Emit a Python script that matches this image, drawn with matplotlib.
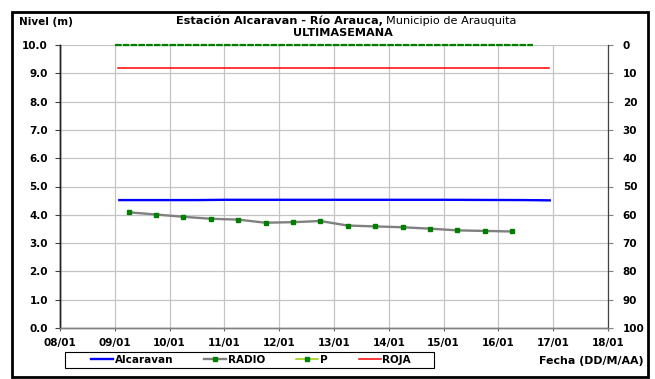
import datetime as dt
import matplotlib
matplotlib.use("Agg")
import matplotlib.pyplot as plt
import matplotlib.dates as mdates
from matplotlib.lines import Line2D
from matplotlib.patches import Rectangle

plt.rcParams["font.family"] = ["DejaVu Sans"]

# ---- data ----
# RADIO readings, every 12 h starting 09/01 06:00
radio_time = ["2011-01-09 06:00", "2011-01-09 18:00", "2011-01-10 06:00", "2011-01-10 18:00",
              "2011-01-11 06:00", "2011-01-11 18:00", "2011-01-12 06:00", "2011-01-12 18:00",
              "2011-01-13 06:00", "2011-01-13 18:00", "2011-01-14 06:00", "2011-01-14 18:00",
              "2011-01-15 06:00", "2011-01-15 18:00", "2011-01-16 06:00"]
radio_val = [4.09, 4.01, 3.93, 3.86, 3.83, 3.72, 3.74, 3.78, 3.62, 3.59, 3.56, 3.51, 3.45, 3.43, 3.41]

# Alcaravan automatic station
alc_time = ["2011-01-09 02:00", "2011-01-10 12:00", "2011-01-11 00:00", "2011-01-13 00:00",
            "2011-01-15 00:00", "2011-01-16 12:00", "2011-01-16 22:30"]
alc_val = [4.52, 4.52, 4.53, 4.53, 4.53, 4.52, 4.51]

# precipitation (right axis, mm)
p_time = ["2011-01-09 00:00", "2011-01-16 15:00"]
p_val = [0, 0]

# red alert level
roja_time = ["2011-01-09 01:30", "2011-01-16 22:00"]
roja_val = [9.2, 9.2]

x_ticks = ["2011-01-%02d" % d for d in range(8, 19)]
y_ticks = [0, 1, 2, 3, 4, 5, 6, 7, 8, 9, 10]
y2_ticks = [0, 10, 20, 30, 40, 50, 60, 70, 80, 90, 100]


def to_dt(lst):
    return [dt.datetime.strptime(s, "%Y-%m-%d %H:%M") if " " in s
            else dt.datetime.strptime(s, "%Y-%m-%d") for s in lst]


fig = plt.figure(figsize=(6.55, 3.79), dpi=100)
ax = fig.add_axes([60 / 655, 1 - 328 / 379, 548 / 655, 283 / 379])
ax2 = ax.twinx()

grid_c = "#c4c4c4"
ax.grid(True, color=grid_c, lw=0.9)
ax.set_axisbelow(True)

ax.plot(to_dt(alc_time), alc_val, color="#0000ff", lw=1.7, zorder=3)
ax.plot(to_dt(roja_time), roja_val, color="#ff0000", lw=1.1, zorder=3)
ax.plot(to_dt(radio_time), radio_val, color="#808080", lw=1.7, marker="s",
        ms=2.2, mfc="#008000", mec="#008000", zorder=4)
ax2.plot(to_dt(p_time), p_val, color="#008000", lw=1.6, ls=(0, (3.0, 0.5)),
         zorder=3, clip_on=False)

xt = to_dt(x_ticks)
ax.set_xlim(xt[0], xt[-1])
ax.set_xticks(xt)
ax.xaxis.set_major_formatter(mdates.DateFormatter("%d/%m"))
ax.set_ylim(0, 10)
ax.set_yticks(y_ticks)
ax.set_yticklabels(["%.1f" % v for v in y_ticks])
ax2.set_ylim(100, 0)
ax2.set_yticks(y2_ticks)

fs = 7.5
tfs = 8.1
for a in (ax, ax2):
    for lab in a.get_xticklabels() + a.get_yticklabels():
        lab.set_fontweight("bold")
        lab.set_fontsize(fs)
ax.tick_params(axis="y", length=3.6, width=0.8, color="#404040", pad=5)
ax.tick_params(axis="x", length=2.5, width=0.8, color="#606060", pad=5)
ax2.tick_params(axis="y", length=3.6, width=0.8, color="#808080", pad=7)

for a in (ax, ax2):
    a.spines["top"].set_visible(False)
    a.spines["left"].set_color("#202020")
    a.spines["bottom"].set_color("#808080")
    a.spines["right"].set_color("#404040")
    a.spines["left"].set_linewidth(1.0)
    a.spines["bottom"].set_linewidth(1.0)

# titles
fig.text(19 / 655, 1 - 22 / 379, "Nivel (m)", fontsize=fs, fontweight="bold",
         ha="left", va="center")
fig.text(383 / 655, 1 - 21 / 379, "Estación Alcaravan - Río Arauca,", fontsize=tfs,
         fontweight="bold", ha="right", va="center")
fig.text(386 / 655, 1 - 21 / 379, "Municipio de Arauquita", fontsize=tfs,
         ha="left", va="center")
fig.text(343 / 655, 1 - 32.5 / 379, "ULTIMASEMANA", fontsize=tfs, fontweight="bold",
         ha="center", va="center")
fig.text(644 / 655, 1 - 361 / 379, "Fecha (DD/M/AA)", fontsize=7.9, fontweight="bold",
         ha="right", va="center")

# legend
handles = [
    Line2D([], [], color="#0000ff", lw=1.7),
    Line2D([], [], color="#808080", lw=1.7, marker="s", ms=2.2, mfc="#008000", mec="#008000"),
    Line2D([], [], color="#99cc00", lw=1.1, marker="s", ms=2.2, mfc="#008000", mec="#008000"),
    Line2D([], [], color="#ff0000", lw=1.1),
]
leg = fig.legend(handles, ["Alcaravan", "RADIO", "P", "ROJA"], ncol=4,
                 loc="center", bbox_to_anchor=(251 / 655, 1 - 360 / 379),
                 frameon=False, prop={"size": fs, "weight": "bold"},
                 handlelength=2.1, handletextpad=0.15, columnspacing=3.0,
                 borderpad=0.3, borderaxespad=0)
fig.patches.append(Rectangle((65 / 655, 1 - 368 / 379), 369 / 655, 16 / 379,
                             transform=fig.transFigure, fill=False,
                             edgecolor="black", lw=0.8))

# outer frame
fig.patches.append(Rectangle((12 / 655, 2 / 379), 636 / 655, 365 / 379,
                             transform=fig.transFigure, fill=False,
                             edgecolor="black", lw=2.0))

fig.savefig("out.png", dpi=100)
